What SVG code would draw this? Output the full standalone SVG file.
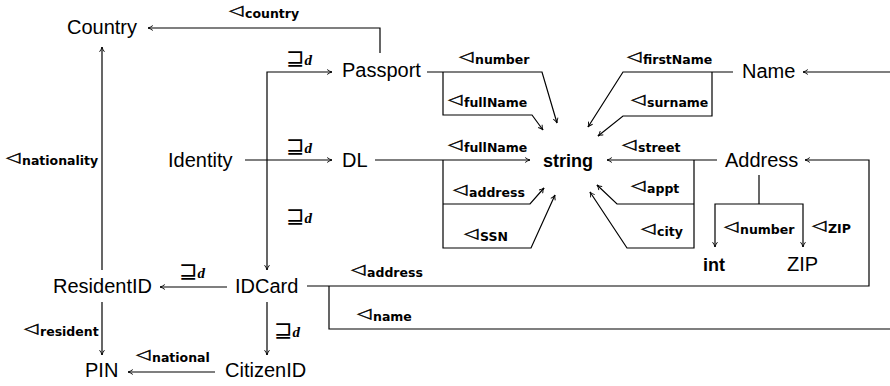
<svg xmlns="http://www.w3.org/2000/svg" width="890" height="386" viewBox="0 0 890 386">
  <style>
    .node { font-family: "Liberation Sans", Arial, sans-serif; font-size: 20px; fill: #000; }
    .dt { font-family: "Liberation Sans", Arial, sans-serif; font-size: 18px; font-weight: bold; fill: #000; }
    .edge { fill: none; stroke: #000; stroke-width: 1.2; }
    .arr { marker-end: url(#head); }
    .tri { font-family: "DejaVu Sans", sans-serif; font-size: 18.5px; fill: #000; stroke: #000; stroke-width: 0.6; }
    .sub { font-family: "DejaVu Sans", sans-serif; font-size: 12.5px; font-weight: bold; fill: #000; }
    .sq { font-family: "DejaVu Sans", sans-serif; font-size: 22px; fill: #000; }
    .d { font-family: "Liberation Serif", serif; font-style: italic; font-weight: bold; font-size: 15px; }
  </style>
  <defs>
    <marker id="head" viewBox="0 0 10 10" refX="9.4" refY="5" markerWidth="7" markerHeight="7" orient="auto" markerUnits="userSpaceOnUse">
      <path d="M2.5,1.5 Q6,4.2 9.4,5 Q6,5.8 2.5,8.5" fill="none" stroke="#000" stroke-width="1.3"/>
    </marker>
    <!-- role symbol, flattened a little -->
    <text id="tri" class="tri" transform="translate(0,-3) scale(1,0.76)">◁</text>
  </defs>

  <!-- connectors with their role / subsumption labels -->
  <g id="connectors">
    <g id="e-passport-country">
      <path class="edge arr" d="M380,53 V28 H148"/>
      <g transform="translate(229,18)"><use href="#tri"/><text class="sub" x="16">country</text></g>
    </g>
    <g id="e-resident-country">
      <path class="edge arr" d="M102,270 V47"/>
      <g transform="translate(6,165)"><use href="#tri"/><text class="sub" x="16">nationality</text></g>
    </g>
    <g id="e-identity-dl">
      <path class="edge arr" d="M245,160 H332"/>
      <text class="sq" x="286" y="153">⊒<tspan class="d">d</tspan></text>
    </g>
    <g id="e-identity-passport">
      <path class="edge arr" d="M267,160 V72 H332"/>
      <text class="sq" x="286" y="65">⊒<tspan class="d">d</tspan></text>
    </g>
    <g id="e-identity-idcard">
      <path class="edge arr" d="M267,160 V270"/>
      <text class="sq" x="286" y="223">⊒<tspan class="d">d</tspan></text>
    </g>
    <g id="e-idcard-resident">
      <path class="edge arr" d="M227,287 H160"/>
      <text class="sq" x="179" y="278">⊒<tspan class="d">d</tspan></text>
    </g>
    <g id="e-idcard-citizen">
      <path class="edge arr" d="M267,302 V355"/>
      <text class="sq" x="274" y="337">⊒<tspan class="d">d</tspan></text>
    </g>
    <g id="e-resident-pin">
      <path class="edge arr" d="M102,302 V355"/>
      <g transform="translate(24,336)"><use href="#tri"/><text class="sub" x="16">resident</text></g>
    </g>
    <g id="e-citizen-pin">
      <path class="edge arr" d="M215,372 H128"/>
      <g transform="translate(136,362)"><use href="#tri"/><text class="sub" x="16">national</text></g>
    </g>

    <g id="e-passport-string">
      <path class="edge arr" d="M427,72 H542 L557,123"/>
      <path class="edge arr" d="M443,72 V115 H532 L543,130"/>
      <g transform="translate(459,64)"><use href="#tri"/><text class="sub" x="16">number</text></g>
      <g transform="translate(448,107)"><use href="#tri"/><text class="sub" x="16">fullName</text></g>
    </g>
    <g id="e-dl-string">
      <path class="edge arr" d="M375,160 H530"/>
      <path class="edge arr" d="M443,160 V248 H531 L555,195"/>
      <path class="edge arr" d="M443,204 H530 L544,188"/>
      <g transform="translate(448,152)"><use href="#tri"/><text class="sub" x="16">fullName</text></g>
      <g transform="translate(453,197)"><use href="#tri"/><text class="sub" x="16">address</text></g>
      <g transform="translate(464,241)"><use href="#tri"/><text class="sub" x="16">SSN</text></g>
    </g>
    <g id="e-name-string">
      <path class="edge arr" d="M733,72 H623 L588,127"/>
      <path class="edge arr" d="M712,72 V116 H623 L598,136"/>
      <g transform="translate(627,64)"><use href="#tri"/><text class="sub" x="16">firstName</text></g>
      <g transform="translate(631,107)"><use href="#tri"/><text class="sub" x="16">surname</text></g>
    </g>
    <g id="e-address-string">
      <path class="edge arr" d="M717,160 H607"/>
      <path class="edge arr" d="M694,160 V248 H627 L590,192"/>
      <path class="edge arr" d="M694,204 H617 L597,185"/>
      <g transform="translate(622,152)"><use href="#tri"/><text class="sub" x="16">street</text></g>
      <g transform="translate(631,193)"><use href="#tri"/><text class="sub" x="16">appt</text></g>
      <g transform="translate(641,236)"><use href="#tri"/><text class="sub" x="16">city</text></g>
    </g>
    <g id="e-address-int-zip">
      <path class="edge" d="M759,175 V204"/>
      <path class="edge arr" d="M759,204 H715 V247"/>
      <path class="edge arr" d="M759,204 H803 V247"/>
      <g transform="translate(724,234)"><use href="#tri"/><text class="sub" x="16">number</text></g>
      <g transform="translate(812,233)"><use href="#tri"/><text class="sub" x="16">ZIP</text></g>
    </g>
    <g id="e-idcard-address">
      <path class="edge arr" d="M307,286 H869 V160 H805"/>
      <g transform="translate(351,277)"><use href="#tri"/><text class="sub" x="16">address</text></g>
    </g>
    <g id="e-idcard-name">
      <path class="edge" d="M329,286 V329 H890"/>
      <path class="edge arr" d="M890,72 H803"/>
      <g transform="translate(357,321)"><use href="#tri"/><text class="sub" x="16">name</text></g>
    </g>
  </g>

  <!-- concept and datatype nodes -->
  <g id="n-country"><text class="node" x="67" y="34">Country</text></g>
  <g id="n-passport"><text class="node" x="342" y="77">Passport</text></g>
  <g id="n-identity"><text class="node" x="168" y="167">Identity</text></g>
  <g id="n-dl"><text class="node" x="342" y="167">DL</text></g>
  <g id="n-string"><text class="dt" x="543" y="167">string</text></g>
  <g id="n-name"><text class="node" x="742" y="78">Name</text></g>
  <g id="n-address"><text class="node" x="725" y="167">Address</text></g>
  <g id="n-int"><text class="dt" x="703" y="271">int</text></g>
  <g id="n-zip"><text class="node" x="787" y="271">ZIP</text></g>
  <g id="n-residentid"><text class="node" x="53" y="293">ResidentID</text></g>
  <g id="n-idcard"><text class="node" x="235" y="293">IDCard</text></g>
  <g id="n-pin"><text class="node" x="85" y="377">PIN</text></g>
  <g id="n-citizenid"><text class="node" x="225" y="377">CitizenID</text></g>
</svg>
